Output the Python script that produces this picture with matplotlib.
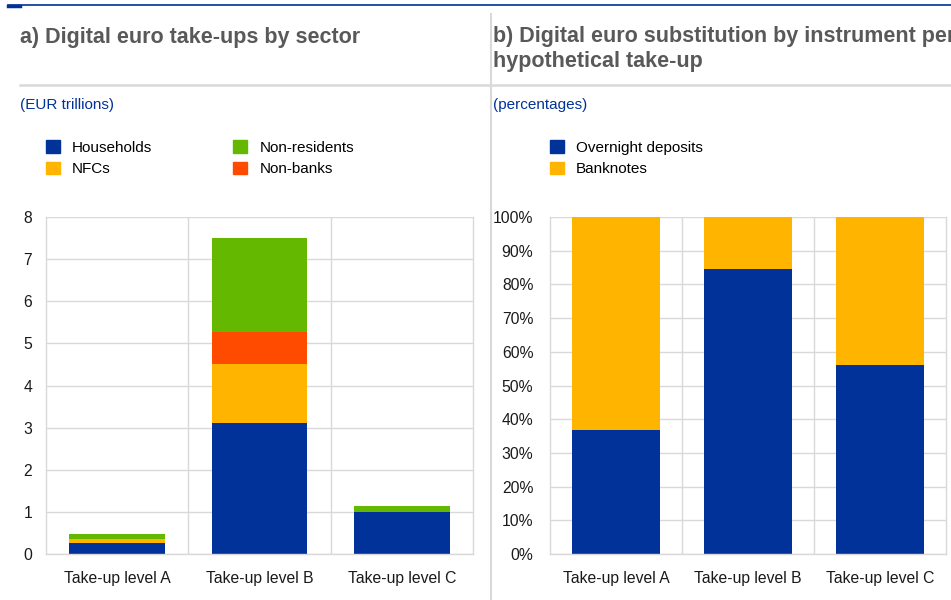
import numpy as np
import matplotlib
matplotlib.use("Agg")
import matplotlib.pyplot as plt
from matplotlib.patches import Patch
from matplotlib.ticker import FixedLocator, PercentFormatter

plt.rcParams['font.family'] = ['Liberation Sans', 'DejaVu Sans']

# data
levels = ['Take-up level A', 'Take-up level B', 'Take-up level C']
households = [0.27, 3.12, 1.00]
nfcs = [0.08, 1.38, 0.0]
non_banks = [0.0, 0.78, 0.0]
non_residents = [0.12, 2.21, 0.15]

overnight_deposits = [36.7, 84.6, 56.2]
banknotes = [100 - v for v in overnight_deposits]

BLUE = '#003299'
YELLOW = '#FFB400'
GREEN = '#65B800'
RED = '#FF4B00'
GRID = '#d9d9d9'
W, H = 951, 600


def box(x0, y0, x1, y1):
    # pixel box (top-left origin) -> figure fraction rect
    return [x0 / W, 1 - y1 / H, (x1 - x0) / W, (y1 - y0) / H]


def style(ax):
    ax.set_xlim(-0.5, 2.5)
    ax.set_xticks(range(3))
    ax.set_xticklabels(levels)
    ax.xaxis.set_minor_locator(FixedLocator([0.5, 1.5]))
    ax.grid(axis='y', color=GRID, lw=1)
    ax.grid(axis='x', which='minor', color=GRID, lw=1)
    ax.set_axisbelow(True)
    for s in ax.spines.values():
        s.set_color(GRID)
        s.set_linewidth(1)
    ax.spines['top'].set_visible(False)
    ax.tick_params(length=0, labelsize=11.3, colors='#1a1a1a', which='both')
    ax.tick_params(axis='x', pad=12)
    ax.tick_params(axis='y', pad=10)


fig = plt.figure(figsize=(W / 100, H / 100), dpi=100)

# panel a
ax1 = fig.add_axes(box(46, 217, 473, 554))
x = np.arange(len(levels))
bw = 0.67
b = np.zeros(3)
for vals, col in [(households, BLUE), (nfcs, YELLOW), (non_banks, RED), (non_residents, GREEN)]:
    ax1.bar(x, vals, bw, bottom=b, color=col, zorder=2)
    b = b + np.array(vals)
ax1.set_ylim(0, 8)
ax1.set_yticks(range(0, 9))
style(ax1)

handles = [Patch(color=BLUE, label='Households'), Patch(color=YELLOW, label='NFCs'),
           Patch(color=GREEN, label='Non-residents'), Patch(color=RED, label='Non-banks')]
fig.legend(handles=handles, ncol=2, loc='upper left', bbox_to_anchor=(40 / W, 1 - 134 / H),
           frameon=False, fontsize=11, handlelength=0.9, handleheight=0.9,
           handletextpad=0.8, columnspacing=5.3, labelspacing=0.45, borderaxespad=0)

# panel b
ax2 = fig.add_axes(box(550, 217, 946, 554))
ax2.bar(x, overnight_deposits, bw, color=BLUE, zorder=2)
ax2.bar(x, banknotes, bw, bottom=overnight_deposits, color=YELLOW, zorder=2)
ax2.set_ylim(0, 100)
ax2.set_yticks(range(0, 101, 10))
ax2.yaxis.set_major_formatter(PercentFormatter(decimals=0))
style(ax2)
ax2.tick_params(axis='y', pad=12)

handles2 = [Patch(color=BLUE, label='Overnight deposits'), Patch(color=YELLOW, label='Banknotes')]
fig.legend(handles=handles2, loc='upper left', bbox_to_anchor=(544 / W, 1 - 134 / H),
           frameon=False, fontsize=11, handlelength=0.9, handleheight=0.9,
           handletextpad=0.8, labelspacing=0.45, borderaxespad=0)

# titles and decorations
fig.text(20 / W, 1 - 37 / H, 'a) Digital euro take-ups by sector', fontsize=15.5,
         fontweight='bold', color='#595959', va='center')
fig.text(493 / W, 1 - 49 / H, 'b) Digital euro substitution by instrument per\nhypothetical take-up',
         fontsize=15.5, fontweight='bold', color='#595959', va='center', linespacing=1.2)
fig.text(20 / W, 1 - 105 / H, '(EUR trillions)', fontsize=11, color=BLUE, va='center')
fig.text(493 / W, 1 - 105 / H, '(percentages)', fontsize=11, color=BLUE, va='center')

fig.add_artist(plt.Line2D([8 / W, 1], [1 - 5 / H] * 2, color=BLUE, lw=1.2))
fig.add_artist(plt.Line2D([8 / W, 20 / W], [1 - 6 / H] * 2, color=BLUE, lw=2.5))
fig.add_artist(plt.Line2D([20 / W, 1], [1 - 85 / H] * 2, color=GRID, lw=1.8))
fig.add_artist(plt.Line2D([491 / W] * 2, [0, 1 - 14 / H], color=GRID, lw=1.5))

fig.savefig('out.png', dpi=100)
